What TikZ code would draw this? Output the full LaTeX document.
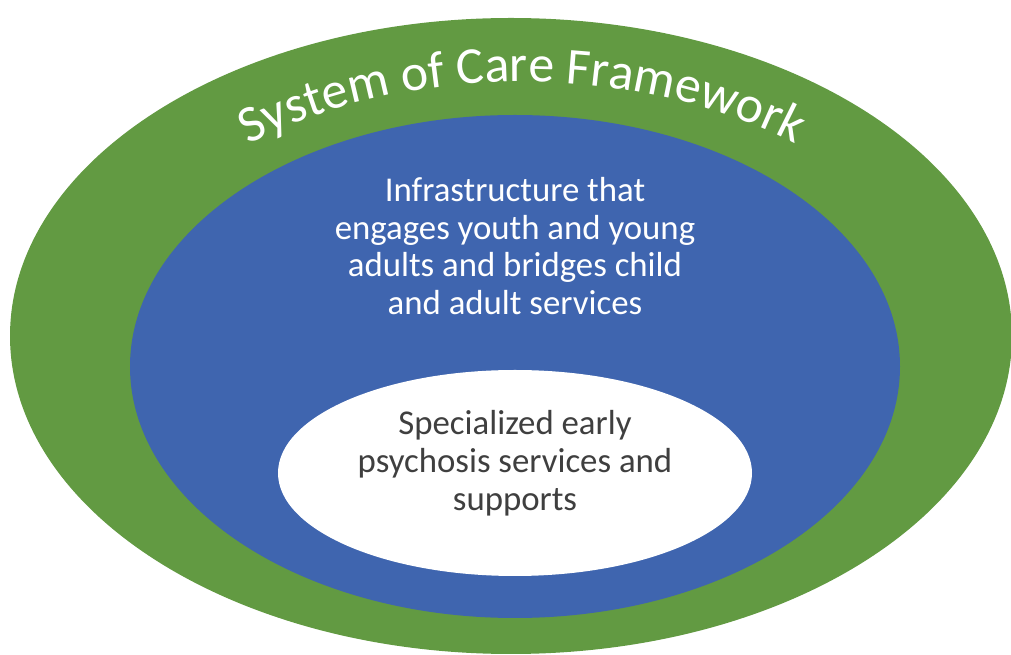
\documentclass[tikz,border=0pt]{standalone}
\usepackage{fontspec}
\setmainfont{Carlito}
\usetikzlibrary{positioning,shapes.geometric,decorations.text}
\definecolor{socgreen}{HTML}{629A42}
\definecolor{socblue}{HTML}{3F65AF}
\definecolor{socgray}{HTML}{3F3F3F}
\tikzset{
  ring/.style={ellipse, inner sep=0, draw=none},
  bluetext/.style={white, align=center, font=\fontsize{19.8}{21.5}\selectfont},
  whitetext/.style={socgray, align=center, font=\fontsize{19.8}{21.5}\selectfont}
}

\begin{document}
\begin{tikzpicture}
\useasboundingbox (0,0) rectangle (20.22,13.1);
% three nested rings
\node[ring, fill=socgreen, minimum width=20.04cm, minimum height=12.72cm] (outer) at (10.22,6.38) {};
\node[ring, fill=socblue, minimum width=15.4cm, minimum height=10.06cm] (middle) at (10.30,5.77) {};
\node[ring, fill=white, minimum width=9.48cm, minimum height=4.12cm] (inner) at (10.30,3.64) {};
% labels
\node[bluetext] (infra) at (10.30,8.18) {Infrastructure that\\engages youth and young\\adults and bridges child\\and adult services};
\node[whitetext] (early) at (10.30,3.84) {Specialized early\\psychosis services and\\supports};
\coordinate (arch) at (10.44,6.30);
\path[decorate, decoration={text along path, text align=center, text color=white,
  text={|\fontsize{29.5}{34}\selectfont|System of Care Framework}}]
  (arch) ++(152:8.4cm and 5.16cm) arc[start angle=152, end angle=28, x radius=8.4cm, y radius=5.16cm];
\end{tikzpicture}
\end{document}
